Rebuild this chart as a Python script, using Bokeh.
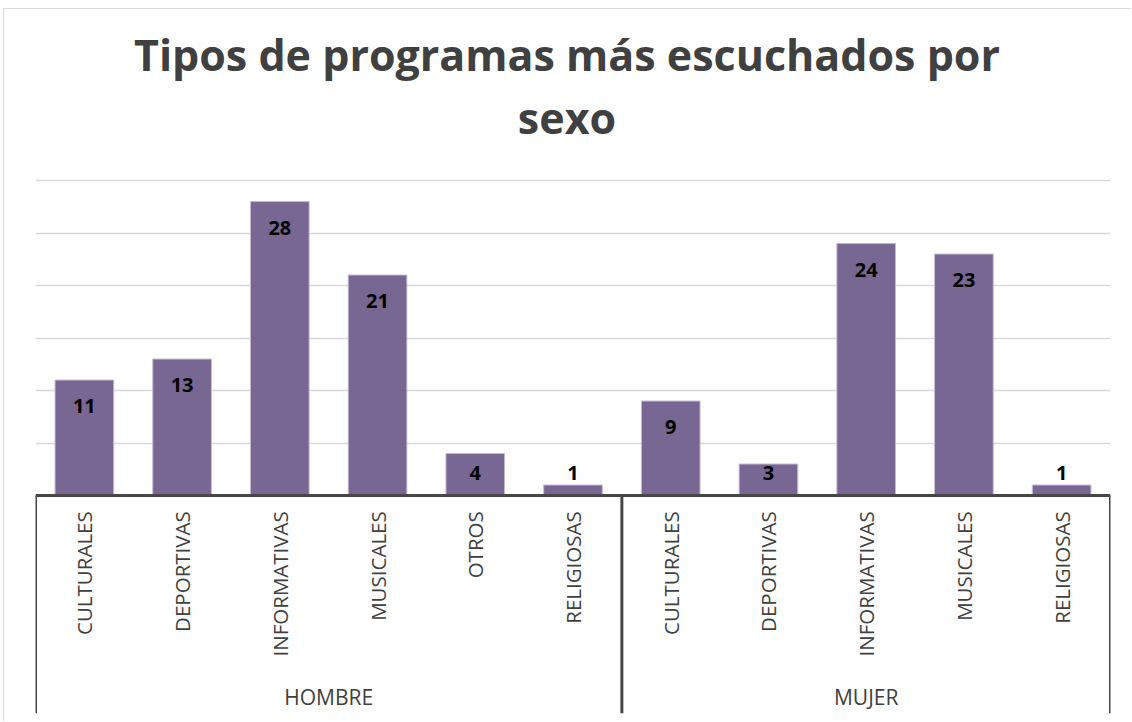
import numpy as np
from bokeh.plotting import figure
from bokeh.models import (FactorRange, Range1d, ColumnDataSource, Grid, FixedTicker)
from bokeh.core.properties import value
from bokeh.embed import file_html
from bokeh.resources import INLINE

# ---- data ----
groups = ["HOMBRE", "MUJER"]
hombre_cats = ["CULTURALES", "DEPORTIVAS", "INFORMATIVAS", "MUSICALES", "OTROS", "RELIGIOSAS"]
hombre_vals = [11, 13, 28, 21, 4, 1]
mujer_cats = ["CULTURALES", "DEPORTIVAS", "INFORMATIVAS", "MUSICALES", "RELIGIOSAS"]
mujer_vals = [9, 3, 24, 23, 1]
grid_ticks = [5, 10, 15, 20, 25, 30]
title_lines = ["Tipos de programas más escuchados por", "sexo"]

factors = [("HOMBRE", c) for c in hombre_cats] + [("MUJER", c) for c in mujer_cats]
vals = np.array(hombre_vals + mujer_vals, dtype=float)

FONT = "Open Sans"
TXT = "#404040"

x_range = FactorRange(factors=factors, group_padding=0, factor_padding=0,
                      subgroup_padding=0, range_padding=0)
y_range = Range1d(-20.76, 46.29)

p = figure(width=1128, height=713, x_range=x_range, y_range=y_range,
           output_backend="svg", toolbar_location=None,
           x_axis_location=None, y_axis_location=None,
           min_border_left=31, min_border_right=22, min_border_bottom=9,
           min_border_top=0, outline_line_color=None,
           margin=(8, 0, 0, 3),
           styles={"border-left": "1px solid #d9d9d9", "border-top": "1px solid #d9d9d9"})
p.title = None
p.xgrid.visible = False
p.ygrid.visible = False

p.add_layout(Grid(dimension=1, ticker=FixedTicker(ticks=grid_ticks),
                  grid_line_color="#d9d9d9", grid_line_width=1.5))

# bars
src = ColumnDataSource(dict(x=factors, top=vals,
                            lab=[str(int(v)) for v in vals],
                            ly=np.maximum(vals - 2.5, 2.1),
                            cat=[f[1] for f in factors]))
p.vbar(x="x", top="top", bottom=0, width=0.6, source=src,
       fill_color="#6f5b8b", fill_alpha=0.93, line_color="#c4b9d4", line_width=1)

# data labels
p.text(x="x", y="ly", text="lab", source=src, text_align="center",
       text_baseline="middle", text_font=value(FONT), text_font_style="bold",
       text_font_size="20px", text_color="black")

# category labels (rotated)
p.text(x="x", y=-1.5, text="cat", source=src,
       angle=np.pi / 2, text_align="right", text_baseline="middle",
       text_font=value(FONT), text_font_size="20.5px", text_color=TXT)

# group labels
p.text(x=groups, y=[-19.2, -19.2], text=groups, text_align="center",
       text_baseline="middle", text_font=value(FONT), text_font_size="21px",
       text_color=TXT)

# axis lines: baseline and group separators
p.segment(x0=[list(factors[0]) + [-0.5]], y0=[0], x1=[list(factors[-1]) + [0.5]], y1=[0],
          line_color="#474747", line_width=3)
sep_x = [list(factors[0]) + [-0.5], list(factors[len(hombre_cats)]) + [-0.5],
         list(factors[-1]) + [0.5]]
p.segment(x0=sep_x, y0=[0] * 3, x1=sep_x, y1=[-20.76] * 3,
          line_color="#474747", line_width=3)

# title (two lines, centred over the chart)
centre = len(factors) / 2.0
p.text(x=[centre, centre], y=[42.04, 35.99], text=title_lines, x_offset=-6,
       text_align="center", text_baseline="alphabetic", text_font=value(FONT),
       text_font_style="bold", text_font_size="43px", text_color=TXT)

open("out.html", "w").write(file_html(p, INLINE))
